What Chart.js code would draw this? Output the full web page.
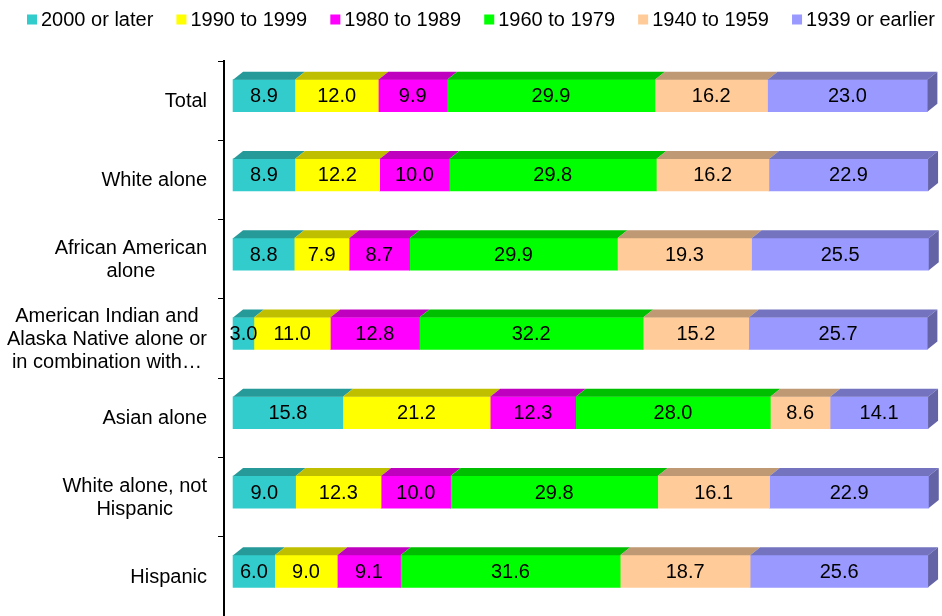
<!DOCTYPE html>
<html>
<head>
<meta charset="utf-8">
<title>Year structure built</title>
<script src="https://cdn.jsdelivr.net/npm/chart.js@4.4.1/dist/chart.umd.min.js"></script>
<style>
  html, body { margin: 0; padding: 0; background: #fff; }
</style>
</head>
<body>
<canvas id="bars" width="942" height="616"></canvas>
<script>
// rows, top to bottom
var categories = [
    'Total',
    'White alone',
    ['African American', 'alone'],
    ['American Indian and', 'Alaska Native alone or', 'in combination with\u2026'],
    'Asian alone',
    ['White alone, not', 'Hispanic'],
    'Hispanic'
];
var seriesNames = ['2000 or later', '1990 to 1999', '1980 to 1989', '1960 to 1979', '1940 to 1959', '1939 or earlier'];

// percent of housing units by year built
var built2000OrLater = [8.9, 8.9, 8.8, 3.0, 15.8, 9.0, 6.0];
var built1990s      = [12.0, 12.2, 7.9, 11.0, 21.2, 12.3, 9.0];
var built1980s      = [9.9, 10.0, 8.7, 12.8, 12.3, 10.0, 9.1];
var built1960to79   = [29.9, 29.8, 29.9, 32.2, 28.0, 29.8, 31.6];
var built1940to59   = [16.2, 16.2, 19.3, 15.2, 8.6, 16.1, 18.7];
var built1939OrEarlier = [23.0, 22.9, 25.5, 25.7, 14.1, 22.9, 25.6];

var seriesValues = [built2000OrLater, built1990s, built1980s, built1960to79, built1940to59, built1939OrEarlier];
var colors = ['#33CCCC', '#FFFF00', '#FF00FF', '#00FF00', '#FFCC99', '#9999FF'];

var FONT = '"Liberation Sans", Arial, sans-serif';
var DX = 10, DY = 8, SHIFT = -5;

function shade(hex, f) {
    var n = parseInt(hex.slice(1), 16);
    var r = Math.round(((n >> 16) & 255) * f);
    var g = Math.round(((n >> 8) & 255) * f);
    var b = Math.round((n & 255) * f);
    return 'rgb(' + r + ',' + g + ',' + b + ')';
}

// fake 3d: top face on every segment, side face on the last one, then the values
var bar3d = {
    id: 'bar3d',
    beforeDatasetsDraw: function(chart) {
        chart.ctx.save();
        chart.ctx.translate(0, SHIFT);
    },
    afterDatasetsDraw: function(chart) {
        var ctx = chart.ctx;
        var last = chart.data.datasets.length - 1;
        chart.data.datasets.forEach(function(ds, di) {
            chart.getDatasetMeta(di).data.forEach(function(bar) {
                var p = bar.getProps(['x', 'y', 'base', 'height'], true);
                var l = Math.min(p.x, p.base), r = Math.max(p.x, p.base);
                var t = p.y - p.height / 2, b = p.y + p.height / 2;
                ctx.fillStyle = shade(colors[di], 0.75);
                ctx.beginPath();
                ctx.moveTo(l, t);
                ctx.lineTo(l + DX, t - DY);
                ctx.lineTo(r + DX, t - DY);
                ctx.lineTo(r, t);
                ctx.closePath();
                ctx.fill();
                if (di === last) {
                    ctx.fillStyle = shade(colors[di], 0.65);
                    ctx.beginPath();
                    ctx.moveTo(r, t);
                    ctx.lineTo(r + DX, t - DY);
                    ctx.lineTo(r + DX, b - DY);
                    ctx.lineTo(r, b);
                    ctx.closePath();
                    ctx.fill();
                }
            });
        });
        ctx.font = '20px ' + FONT;
        ctx.fillStyle = '#000';
        ctx.textAlign = 'center';
        ctx.textBaseline = 'middle';
        chart.data.datasets.forEach(function(ds, di) {
            chart.getDatasetMeta(di).data.forEach(function(bar, i) {
                var p = bar.getProps(['x', 'y', 'base'], true);
                ctx.fillText(ds.data[i].toFixed(1), (p.x + p.base) / 2, p.y + 1);
            });
        });
        ctx.restore();
    }
};

// category labels: lines centred, block right aligned
var yLabels = {
    id: 'yLabels',
    afterDraw: function(chart) {
        var ctx = chart.ctx, ys = chart.scales.y;
        var right = 207, lineH = 23;
        ctx.save();
        ctx.font = '20px ' + FONT;
        ctx.fillStyle = '#000';
        ctx.textAlign = 'center';
        ctx.textBaseline = 'middle';
        categories.forEach(function(lab, i) {
            var lines = [].concat(lab);
            var w = Math.max.apply(null, lines.map(function(s) { return ctx.measureText(s).width; }));
            var y0 = ys.getPixelForValue(i) - (lines.length - 1) * lineH / 2;
            lines.forEach(function(s, k) {
                ctx.fillText(s, right - w / 2, y0 + k * lineH + 1);
            });
        });
        ctx.restore();
    }
};

// legend in one row, small gap between swatch and text
var topLegend = {
    id: 'topLegend',
    afterDraw: function(chart) {
        var ctx = chart.ctx;
        var x0 = 27, x1 = 935, box = 10, gap = 4, midY = 19.5;
        ctx.save();
        ctx.font = '20px ' + FONT;
        ctx.textAlign = 'left';
        ctx.textBaseline = 'middle';
        var widths = seriesNames.map(function(s) { return ctx.measureText(s).width; });
        var used = widths.reduce(function(a, w) { return a + box + gap + w; }, 0);
        var space = (x1 - x0 - used) / (seriesNames.length - 1);
        var x = x0;
        seriesNames.forEach(function(s, k) {
            ctx.fillStyle = colors[k];
            ctx.fillRect(x, midY - box / 2, box, box);
            ctx.fillStyle = '#000';
            ctx.fillText(s, x + box + gap, midY + 1);
            x += box + gap + widths[k] + space;
        });
        ctx.restore();
    }
};

var ctx = document.getElementById('bars').getContext('2d');
var myChart = new Chart(ctx, {
    type: 'bar',
    data: {
        labels: categories,
        datasets: seriesValues.map(function(vals, k) {
            return {
                label: seriesNames[k],
                data: vals,
                backgroundColor: colors[k],
                borderWidth: 0,
                barThickness: 32
            };
        })
    },
    options: {
        responsive: false,
        animation: false,
        indexAxis: 'y',
        layout: { padding: { top: 61, left: 0, right: 3.5, bottom: 0 } },
        scales: {
            x: {
                stacked: true,
                display: false,
                min: -1.3,
                max: 101.5
            },
            y: {
                stacked: true,
                afterFit: function(scale) { scale.width = 224; },
                ticks: { display: false },
                grid: { drawOnChartArea: false, drawTicks: true, tickLength: 6, color: '#000', lineWidth: 1 },
                border: { display: true, color: '#000', width: 2 }
            }
        },
        plugins: {
            legend: { display: false },
            tooltip: { enabled: false }
        }
    },
    plugins: [bar3d, yLabels, topLegend]
});
</script>
</body>
</html>
